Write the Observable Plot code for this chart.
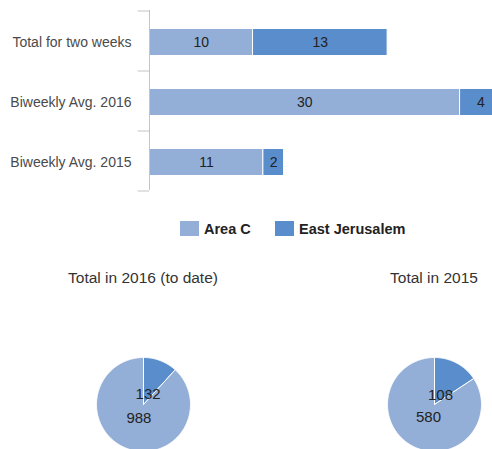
<!DOCTYPE html>
<html><head><meta charset="utf-8">
<script src="https://cdn.jsdelivr.net/npm/d3@7"></script>
<script src="https://cdn.jsdelivr.net/npm/@observablehq/plot@0.6"></script>
<style>
html,body{margin:0;padding:0;background:#fff;overflow:hidden;width:492px;height:449px;}
#root{position:relative;width:492px;height:449px;overflow:hidden;font-family:"Liberation Sans",Arial,sans-serif;}
.sw{position:absolute;width:19px;height:15px;}
.lg{position:absolute;font-weight:bold;font-size:14.5px;line-height:15px;color:#222;white-space:nowrap;}
.pt{position:absolute;width:240px;text-align:center;font-size:15.5px;line-height:15px;color:#333;white-space:nowrap;}
svg{max-width:none !important;}
</style></head><body><div id="root"></div>
<script>
const categories = ["Total for two weeks", "Biweekly Avg. 2016", "Biweekly Avg. 2015"];
const series = ["Area C", "East Jerusalem"];
const areaC = [10, 30, 11];
const eastJerusalem = [13, 4, 2];
const colors = ["#93afd8", "#598dcb"];
const pieTitles = ["Total in 2016 (to date)", "Total in 2015"];
const pieAreaC = [988, 580];
const pieEastJerusalem = [132, 108];

const root = document.getElementById("root");
const font = '"Liberation Sans", Arial, sans-serif';

const rows = categories.flatMap((c, i) => [
  {cat: c, series: series[0], value: areaC[i]},
  {cat: c, series: series[1], value: eastJerusalem[i]}
]);

const bar = Plot.plot({
  width: 501, height: 200,
  marginLeft: 149, marginRight: 0, marginTop: 10, marginBottom: 10,
  x: {domain: [0, 34], axis: null},
  y: {domain: categories, axis: null, paddingInner: 0.55, paddingOuter: 0.275},
  color: {domain: series, range: colors},
  style: {fontFamily: font, fontSize: "14px", background: "transparent", overflow: "visible", maxWidth: "none"},
  marks: [
    Plot.barX(rows, Plot.stackX({x: "value", y: "cat", fill: "series", stroke: "white", strokeWidth: 1, dy: 1.5})),
    Plot.text(rows, Plot.stackX({x: "value", y: "cat", z: "series", text: d => String(d.value), fill: "#222", dy: 1.5})),
    Plot.ruleX([0], {stroke: "#c4c4c4"}),
    Plot.ruleY(categories, {y: d => d, x1: -1.1, x2: 0, dy: -30, stroke: "#c4c4c4"}),
    Plot.ruleY([categories[categories.length - 1]], {y: d => d, x1: -1.1, x2: 0, dy: 30, stroke: "#c4c4c4"}),
    Plot.text(categories, {y: d => d, x: 0, dx: -18, textAnchor: "end", fill: "#4a4a4a", dy: 1.5})
  ]
});
bar.style.position = "absolute";
bar.style.left = "0px";
bar.style.top = "0px";
bar.style.maxWidth = "none";
root.appendChild(bar);

// legend
const legendPos = [[180, 204], [275, 299]];
series.forEach((s, i) => {
  const sw = document.createElement("div");
  sw.className = "sw";
  sw.style.left = legendPos[i][0] + "px";
  sw.style.top = "221px";
  sw.style.background = colors[i];
  root.appendChild(sw);
  const t = document.createElement("div");
  t.className = "lg";
  t.style.left = legendPos[i][1] + "px";
  t.style.top = "222px";
  t.textContent = s;
  root.appendChild(t);
});

// pies
const pieCenters = [143, 434];
pieTitles.forEach((title, i) => {
  const slices = [
    {series: series[1], value: pieEastJerusalem[i]},
    {series: series[0], value: pieAreaC[i]}
  ];
  const arcs = d3.pie().sort(null).value(d => d.value)(slices);
  const pts = [];
  const labels = [];
  arcs.forEach(a => {
    const s = a.data.series;
    pts.push({series: s, x: 0, y: 0});
    const n = Math.max(2, Math.ceil((a.endAngle - a.startAngle) / (Math.PI / 180)));
    for (let k = 0; k <= n; k++) {
      const ang = a.startAngle + (a.endAngle - a.startAngle) * k / n;
      pts.push({series: s, x: Math.sin(ang), y: Math.cos(ang)});
    }
    pts.push({series: s, x: 0, y: 0});
    const mid = (a.startAngle + a.endAngle) / 2;
    labels.push({x: 0.27 * Math.sin(mid), y: 0.27 * Math.cos(mid), text: String(a.data.value)});
  });
  const r = 47;
  const half = 100;
  const p = Plot.plot({
    width: 2 * half, height: 2 * half,
    marginLeft: half - r, marginRight: half - r, marginTop: half - r, marginBottom: half - r,
    x: {domain: [-1, 1], axis: null},
    y: {domain: [-1, 1], axis: null},
    color: {domain: series, range: colors},
    style: {fontFamily: font, fontSize: "15px", background: "transparent", overflow: "visible", maxWidth: "none"},
    marks: [
      Plot.line(pts, {x: "x", y: "y", z: "series", fill: "series", stroke: "white", strokeWidth: 1, curve: "linear"}),
      Plot.text(labels, {x: "x", y: "y", text: "text", fill: "#222", dy: 2})
    ]
  });
  p.style.position = "absolute";
  p.style.left = (pieCenters[i] - half) + "px";
  p.style.top = (404 - half) + "px";
  p.style.maxWidth = "none";
  root.appendChild(p);
  const t = document.createElement("div");
  t.className = "pt";
  t.style.left = (pieCenters[i] - 120) + "px";
  t.style.top = "270px";
  t.textContent = title;
  root.appendChild(t);
});
</script></body></html>
